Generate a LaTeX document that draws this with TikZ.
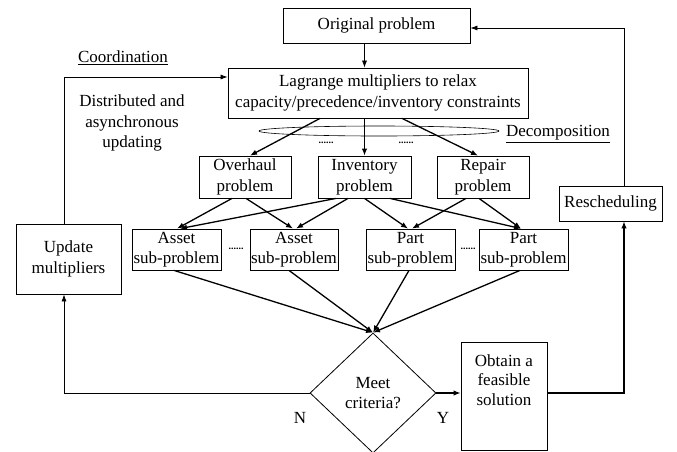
\documentclass[tikz,border=0pt]{standalone}
\usepackage{fontspec}
\setmainfont{Liberation Serif}
\usetikzlibrary{arrows.meta,shapes.geometric,calc}
\newcommand\myfs{\fontsize{17}{20.5}\selectfont}
\begin{document}
\begin{tikzpicture}[x=1pt,y=-1pt,
  box/.style={draw, line width=0.8pt, inner sep=0pt, align=center, font=\myfs},
  lbl/.style={inner sep=0pt, align=center, font=\myfs},
  dotsnode/.style={inner sep=0pt, font=\fontsize{10}{10}\selectfont\bfseries},
  thinarr/.style={line width=0.7pt, -{Latex[length=7pt,width=5pt]}},
  thinln/.style={line width=0.7pt},
  thkarr/.style={line width=1.3pt, -{Latex[length=7pt,width=5.5pt]}},
  thkln/.style={line width=1.3pt}]
\useasboundingbox (0,0) rectangle (677,451);
% boxes
\node[box, minimum width=187pt, minimum height=35pt] (orig) at (376.5,25.5) {Original problem};
\node[box, minimum width=300pt, minimum height=50pt] (lag) at (378,93) {Lagrange multipliers to relax\\capacity/precedence/inventory constraints};
\node[box, minimum width=92pt, minimum height=42pt] (over) at (245,177) {Overhaul\\problem};
\node[box, minimum width=93pt, minimum height=42pt] (inv) at (364.5,177) {Inventory\\problem};
\node[box, minimum width=92pt, minimum height=42pt] (rep) at (483,177) {Repair\\problem};
\node[box, minimum width=89pt, minimum height=41pt] (a1) at (176.5,249.5) {Asset\\sub-problem};
\node[box, minimum width=88pt, minimum height=41pt] (a2) at (294,249.5) {Asset\\sub-problem};
\node[box, minimum width=89pt, minimum height=41pt] (p1) at (410.5,249.5) {Part\\sub-problem};
\node[box, minimum width=89pt, minimum height=41pt] (p2) at (523.5,249.5) {Part\\sub-problem};
\node[box, minimum width=105pt, minimum height=70pt] (upd) at (68.5,259) {Update\\multipliers};
\node[box, minimum width=103pt, minimum height=35pt] (resch) at (610.5,203.5) {Rescheduling};
\node[box, diamond, minimum width=126pt, minimum height=120pt] (dia) at (373,393) {Meet\\criteria?};
\node[box, minimum width=86pt, minimum height=108pt] (obt) at (504,396) {};
\node[lbl, font=\fontsize{17}{19.5}\selectfont] (obttxt) at (504,380) {Obtain a\\feasible\\solution};
% ellipse
\node[draw, ellipse, line width=0.6pt, minimum width=240pt, minimum height=10pt, inner sep=0pt] (ell) at (379,131) {};
% labels
\node[lbl] (coord) at (123,58) {\underline{Coordination}};
\node[lbl] (decomp) at (558,134) {\underline{Decomposition}};
\node[lbl] (dist) at (132,123) {Distributed and\\asynchronous\\updating};
\node[lbl] (nlab) at (300,418) {N};
\node[lbl] (ylab) at (443,418) {Y};
\node[dotsnode] (d1) at (326,143) {......};
\node[dotsnode] (d2) at (406,143) {......};
\node[dotsnode] (d3) at (236,249) {......};
\node[dotsnode] (d4) at (468,249) {......};
% coordinates
\coordinate (cleft) at (64,77);
\coordinate (nleft) at (64,393);
\coordinate (rb) at (624,393);
\coordinate (rt) at (624,28);
% connectors
\draw[thinarr] (orig.south -| inv) -- (lag.north -| inv);
\draw[thkarr] ([xshift=-58pt]lag.south) -- ([xshift=5pt]over.north);
\draw[thkarr] (lag.south -| inv) -- (inv.north);
\draw[thkarr] ([xshift=24pt]lag.south) -- ([xshift=-5pt]rep.north);
\draw[thkarr] ([xshift=-13pt]over.south) -- ([xshift=0.5pt]a1.north);
\draw[thkarr] ([xshift=1pt]over.south) -- ([xshift=-1pt]a2.north);
\draw[thkarr] ([xshift=-28.5pt]inv.south) -- ([xshift=3.5pt]a1.north);
\draw[thkarr] ([xshift=-16.5pt]inv.south) -- ([xshift=2pt]a2.north);
\draw[thkarr] (inv.south) -- ([xshift=-2.5pt]p1.north);
\draw[thkarr] ([xshift=25.5pt]inv.south) -- ([xshift=-2.5pt]p2.north);
\draw[thkarr] ([xshift=-17pt]rep.south) -- ([xshift=1.5pt]p1.north);
\draw[thkarr] ([xshift=-4pt]rep.south) -- ([xshift=-2.5pt]p2.north);
\draw[thkarr] ([xshift=-2.5pt]a1.south) -- (dia.north);
\draw[thkarr] ([xshift=-5pt]a2.south) -- (dia.north);
\draw[thkarr] ([xshift=-1.5pt]p1.south) -- (dia.north);
\draw[thkarr] ([xshift=-3.5pt]p2.south) -- (dia.north);
\draw[thinarr] (upd.north -| cleft) -- (cleft) -- (cleft -| lag.west);
\draw[thinarr] (dia.west) -- (nleft) -- (upd.south -| nleft);
\draw[thkarr] (dia.east) -- (obt.west |- dia.east);
\draw[thkarr] (obt.east |- rb) -- (rb) -- (resch.south -| rb);
\draw[thinarr] (resch.north -| rt) -- (rt) -- (orig.east |- rt);
\end{tikzpicture}
\end{document}
